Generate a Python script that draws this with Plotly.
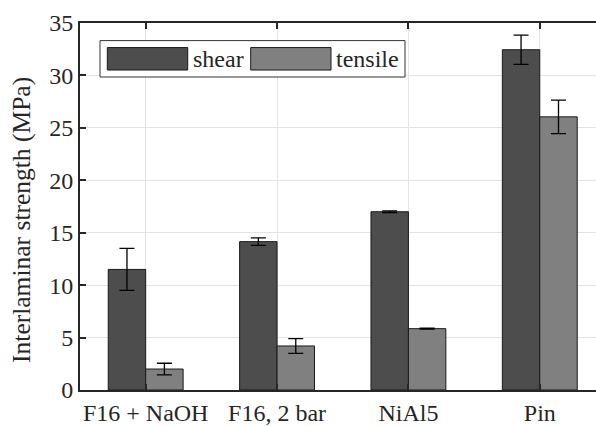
import plotly.graph_objects as go

categories = ["F16 + NaOH", "F16, 2 bar", "NiAl5", "Pin"]
shear = [11.5, 14.15, 17.0, 32.45]
shear_err = [2.0, 0.35, 0.08, 1.4]
tensile = [2.0, 4.2, 5.85, 26.05]
tensile_err = [0.55, 0.7, 0.05, 1.6]
y_ticks = [0, 5, 10, 15, 20, 25, 30, 35]

W, H = 596, 426
L, T, B, R = 80, 23, 34, 0
FONT = "Liberation Serif"
FS = 24

fig = go.Figure()
fig.add_trace(go.Bar(
    x=categories, y=shear, name="shear",
    marker=dict(color="#4d4d4d", line=dict(color="#1a1a1a", width=1)),
    error_y=dict(type="data", array=shear_err, color="black", thickness=1.3, width=7.5),
))
fig.add_trace(go.Bar(
    x=categories, y=tensile, name="tensile",
    marker=dict(color="#808080", line=dict(color="#1a1a1a", width=1)),
    error_y=dict(type="data", array=tensile_err, color="black", thickness=1.3, width=7.5),
))

pw, ph = W - L - R, H - T - B
def px(x):
    return (x - L) / pw
def py(y):
    return (H - B - y) / ph

shapes = [
    dict(type="rect", xref="paper", yref="paper", x0=px(100), x1=px(405), y0=py(77.3), y1=py(40.7),
         line=dict(color="#333333", width=1), fillcolor="white", layer="above"),
    dict(type="rect", xref="paper", yref="paper", x0=px(107.3), x1=px(187.7), y0=py(70.3), y1=py(47.7),
         line=dict(color="#1a1a1a", width=1), fillcolor="#4d4d4d", layer="above"),
    dict(type="rect", xref="paper", yref="paper", x0=px(250.7), x1=px(331), y0=py(70.3), y1=py(47.7),
         line=dict(color="#1a1a1a", width=1), fillcolor="#808080", layer="above"),
]
annotations = [
    dict(xref="paper", yref="paper", x=px(191), y=py(59), text="shear", showarrow=False,
         xanchor="left", yanchor="middle", font=dict(family=FONT, size=FS, color="#262626")),
    dict(xref="paper", yref="paper", x=px(334), y=py(59), text="tensile", showarrow=False,
         xanchor="left", yanchor="middle", font=dict(family=FONT, size=FS, color="#262626")),
    dict(xref="paper", yref="paper", x=px(22), y=py(221), text="Interlaminar strength (MPa)",
         showarrow=False, textangle=-90, xanchor="center", yanchor="middle",
         font=dict(family=FONT, size=25.5, color="#262626")),
]

fig.update_layout(
    width=W, height=H,
    margin=dict(l=L, r=R, t=T, b=B, pad=0),
    paper_bgcolor="white", plot_bgcolor="white",
    barmode="group", bargap=0.43, bargroupgap=0,
    showlegend=False,
    font=dict(family=FONT, size=FS, color="#262626"),
    shapes=shapes, annotations=annotations,
    xaxis=dict(
        type="category", range=[-0.5, 3.428],
        showline=True, linecolor="#262626", linewidth=2, mirror="ticks",
        ticks="inside", ticklen=6, tickcolor="#262626", tickwidth=1.5,
        showgrid=True, gridcolor="#e3e3e3", gridwidth=1,
        tickfont=dict(family=FONT, size=FS, color="#262626"),
        zeroline=False,
    ),
    yaxis=dict(
        range=[0, 35], tickvals=y_ticks,
        showline=True, linecolor="#262626", linewidth=2, mirror=False,
        ticks="inside", ticklen=6, tickcolor="#262626", tickwidth=1.5,
        showgrid=True, gridcolor="#e3e3e3", gridwidth=1,
        tickfont=dict(family=FONT, size=FS, color="#262626"),
        zeroline=False,
    ),
)

fig.write_html("out.html", config={"displayModeBar": False},
               post_script="document.body.style.margin='0';")
